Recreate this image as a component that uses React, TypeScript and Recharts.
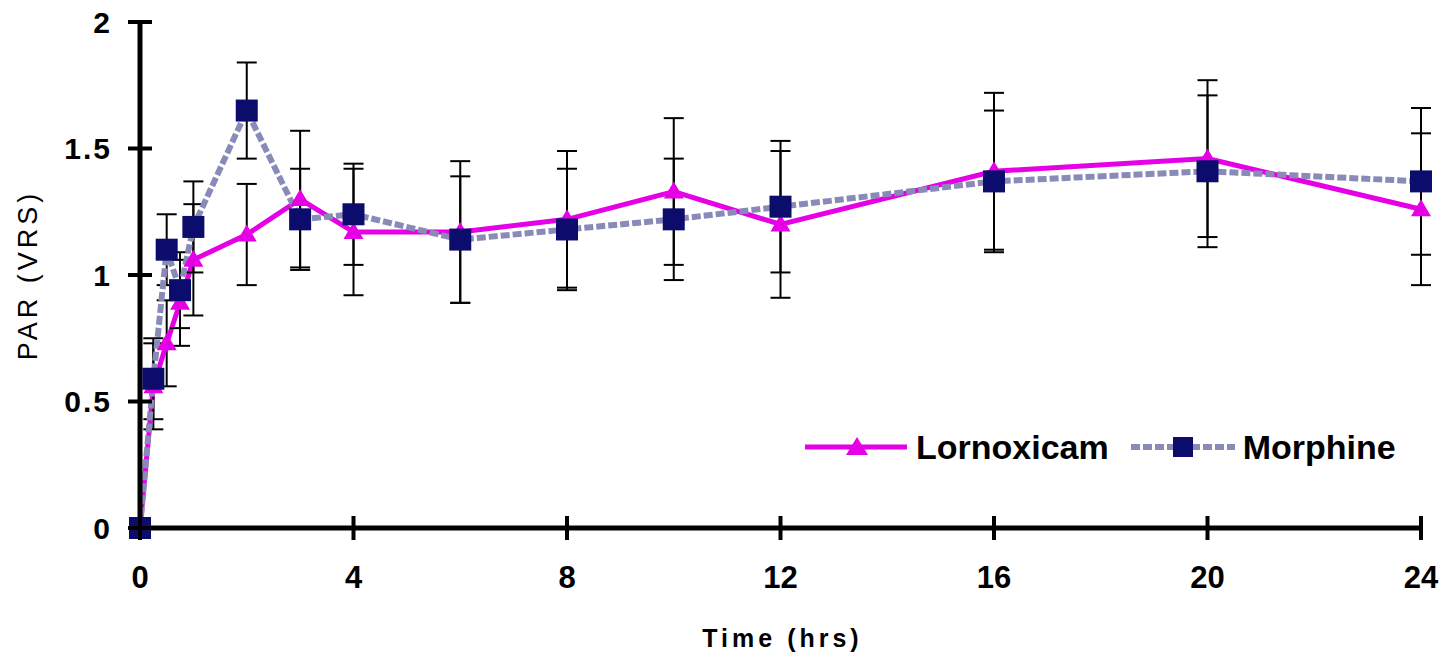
import React from 'react'
import { LineChart, Line, XAxis, YAxis, ErrorBar } from 'recharts'

const times = [0, 0.25, 0.5, 0.75, 1, 2, 3, 4, 6, 8, 10, 12, 16, 20, 24]
const lornoxicam = [0, 0.56, 0.73, 0.89, 1.06, 1.16, 1.3, 1.17, 1.17, 1.22, 1.33, 1.2, 1.41, 1.46, 1.26]
const lornoxicamErr = [0, 0.17, 0.17, 0.17, 0.22, 0.2, 0.27, 0.25, 0.28, 0.27, 0.29, 0.29, 0.31, 0.31, 0.3]
const morphine = [0, 0.59, 1.1, 0.94, 1.19, 1.65, 1.22, 1.24, 1.14, 1.18, 1.22, 1.27, 1.37, 1.41, 1.37]
const morphineErr = [0, 0.16, 0.14, 0.15, 0.18, 0.19, 0.2, 0.2, 0.25, 0.24, 0.24, 0.26, 0.28, 0.3, 0.29]

const xTicks = [0, 4, 8, 12, 16, 20, 24]
const yTicks = [0, 0.5, 1, 1.5, 2]

const seriesNames = ['Lornoxicam', 'Morphine']

const MAGENTA = '#e600e6'
const LAVENDER = '#8a8ab8'
const NAVY = '#0c0c6c'
const FONT = '"Liberation Sans", Arial, sans-serif'

const data = times.map((t, i) => ({
  time: t,
  lornoxicam: lornoxicam[i],
  lornoxicamErr: lornoxicamErr[i],
  morphine: morphine[i],
  morphineErr: morphineErr[i],
}))

const TriangleDot = (props: any) => {
  const { cx, cy, index } = props
  if (cx == null || cy == null) return null
  return (
    <path
      key={`tri-${index}`}
      d={`M${cx},${cy - 10} L${cx + 10},${cy + 7} L${cx - 10},${cy + 7} Z`}
      fill={MAGENTA}
    />
  )
}

const SquareDot = (props: any) => {
  const { cx, cy, index } = props
  if (cx == null || cy == null) return null
  return <rect key={`sq-${index}`} x={cx - 11} y={cy - 11} width={22} height={22} fill={NAVY} />
}

// tick marks cross the axis, so they are drawn here with the label
const YTick = ({ x, y, payload }: any) => (
  <g>
    <line x1={x - 12} x2={x + 12} y1={y} y2={y} stroke="#000" strokeWidth={4} />
    <text
      x={x - 28}
      y={y}
      dy="0.36em"
      textAnchor="end"
      fontFamily={FONT}
      fontWeight="bold"
      fontSize={30}
      letterSpacing={2}
      fill="#000"
    >
      {payload.value}
    </text>
  </g>
)

const XTick = ({ x, y, payload }: any) => (
  <g>
    <line x1={x} x2={x} y1={y - 12} y2={y + 12} stroke="#000" strokeWidth={4} />
    <text
      x={x}
      y={y + 60}
      textAnchor="middle"
      fontFamily={FONT}
      fontWeight="bold"
      fontSize={31}
      fill="#000"
    >
      {payload.value}
    </text>
  </g>
)

const YTitle = ({ viewBox }: any) => {
  const cx = viewBox.x + 27
  const cy = viewBox.y + viewBox.height / 2
  return (
    <text
      x={cx}
      y={cy}
      transform={`rotate(-90 ${cx} ${cy})`}
      textAnchor="middle"
      dy="0.36em"
      fontFamily={FONT}
      fontSize={27}
      letterSpacing={4}
      fill="#000"
    >
      PAR (VRS)
    </text>
  )
}

const XTitle = ({ viewBox }: any) => {
  const cx = viewBox.x + viewBox.width / 2 + 2
  return (
    <text
      x={cx}
      y={viewBox.y + 119}
      textAnchor="middle"
      fontFamily={FONT}
      fontWeight="bold"
      fontSize={25}
      letterSpacing={4}
      fill="#000"
    >
      Time (hrs)
    </text>
  )
}

const legendText: React.CSSProperties = {
  fontFamily: FONT,
  fontWeight: 'bold',
  fontSize: 34,
  color: '#000',
  lineHeight: '40px',
}

function ChartLegend() {
  return (
    <div
      style={{
        position: 'absolute',
        left: 805,
        top: 427,
        display: 'flex',
        alignItems: 'center',
        height: 40,
      }}
    >
      <svg width={102} height={24} style={{ display: 'block' }}>
        <line x1={0} x2={102} y1={12} y2={12} stroke={MAGENTA} strokeWidth={5} />
        <path d="M52,2 L63,20 L41,20 Z" fill={MAGENTA} />
      </svg>
      <span style={{ ...legendText, marginLeft: 9 }}>{seriesNames[0]}</span>
      <svg width={104} height={24} style={{ display: 'block', marginLeft: 22 }}>
        <line x1={0} x2={104} y1={12} y2={12} stroke={LAVENDER} strokeWidth={6} strokeDasharray="9 3" />
        <rect x={42} y={2} width={20} height={20} fill={NAVY} />
      </svg>
      <span style={{ ...legendText, marginLeft: 8 }}>{seriesNames[1]}</span>
    </div>
  )
}

export default function App() {
  return (
    <div style={{ position: 'absolute', left: 0, top: 0, width: 1445, height: 658, background: '#fff' }}>
      <LineChart width={1445} height={658} data={data} margin={{ top: 22, right: 24, left: 0, bottom: 0 }}>
        <XAxis
          dataKey="time"
          type="number"
          domain={[0, 24]}
          ticks={xTicks}
          interval={0}
          height={130}
          axisLine={{ stroke: '#000', strokeWidth: 5 }}
          tickLine={false}
          tickSize={0}
          tickMargin={0}
          tick={<XTick />}
          label={{ content: <XTitle /> }}
        />
        <YAxis
          type="number"
          domain={[0, 2]}
          ticks={yTicks}
          interval={0}
          width={140}
          axisLine={{ stroke: '#000', strokeWidth: 5 }}
          tickLine={false}
          tickSize={0}
          tickMargin={0}
          tick={<YTick />}
          label={{ content: <YTitle /> }}
        />
        <Line
          dataKey="lornoxicam"
          name={seriesNames[0]}
          stroke={MAGENTA}
          strokeWidth={5}
          dot={TriangleDot}
          activeDot={false}
          isAnimationActive={false}
        >
          <ErrorBar dataKey="lornoxicamErr" width={10} stroke="#000" strokeWidth={2} direction="y" />
        </Line>
        <Line
          dataKey="morphine"
          name={seriesNames[1]}
          stroke={LAVENDER}
          strokeWidth={6}
          strokeDasharray="9 3"
          dot={SquareDot}
          activeDot={false}
          isAnimationActive={false}
        >
          <ErrorBar dataKey="morphineErr" width={10} stroke="#000" strokeWidth={2} direction="y" />
        </Line>
      </LineChart>
      <ChartLegend />
    </div>
  )
}
